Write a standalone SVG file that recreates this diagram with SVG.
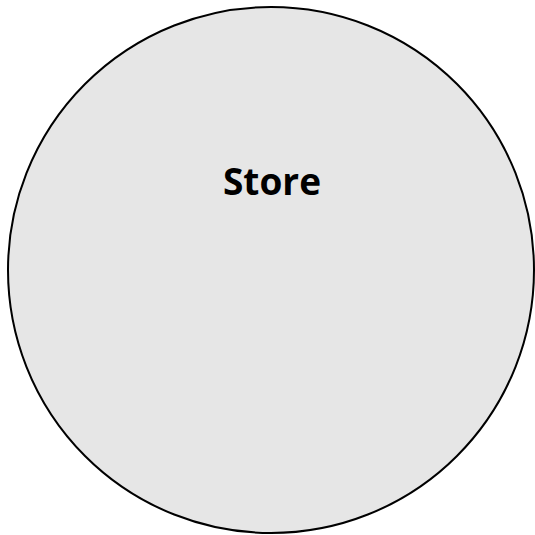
<svg xmlns="http://www.w3.org/2000/svg" width="535" height="535" viewBox="0 0 535 535">
<style>
.node{fill:#e6e6e6;stroke:#000;stroke-width:2}
.label{font-family:"Open Sans","Liberation Sans",sans-serif;font-weight:bold;font-size:37px;fill:#000;text-anchor:middle}
</style>
<rect width="535" height="535" fill="#fff"/>
<g id="store">
<circle class="node" cx="271" cy="270" r="263"/>
<text class="label" x="272" y="195">Store</text>
</g>
<g id="connectors"></g>
</svg>
